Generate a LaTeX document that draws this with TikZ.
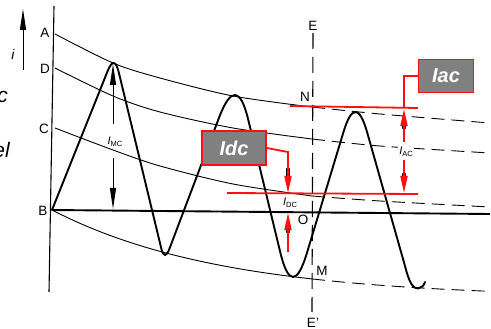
\documentclass[tikz,border=0pt]{standalone}
\usepackage{fontspec}
\setmainfont{Liberation Sans}
\usetikzlibrary{arrows.meta}
\definecolor{boxgrey}{HTML}{808080}
\definecolor{redc}{HTML}{FF1010}
\newcommand{\subtxt}[2]{\textit{#1}\raisebox{-0.35ex}{\fontsize{7.5}{8}\selectfont #2}}
\begin{document}
\begin{tikzpicture}[x=1pt,y=-1pt,
  axisline/.style={line width=1.1pt},
  thincurve/.style={line width=0.9pt},
  dcurve/.style={line width=0.9pt, dash pattern=on 13pt off 7pt},
  wavepath/.style={line width=1.9pt, line join=round, line cap=round},
  redl/.style={draw=redc, line width=1.8pt},
  redarrow/.style={redl, -{Triangle[length=17pt,width=7pt]}},
  blkarrow/.style={line width=1pt, -{Triangle[length=21pt,width=6pt]}},
  lab/.style={inner sep=0pt, font=\fontsize{13.5}{14}\selectfont},
  sublab/.style={inner sep=1pt, fill=white, font=\fontsize{11}{12}\selectfont},
  tagbox/.style={draw=redc, line width=1.6pt, fill=boxgrey, text=white, inner sep=0pt, font=\fontsize{20}{20}\selectfont\bfseries\itshape},
  blob/.style={line width=3.2pt, line cap=round},
]
\useasboundingbox (0,0) rectangle (491,329);

% key points
\coordinate (A) at (55,34);
\coordinate (D) at (55,68);
\coordinate (C) at (55,128);
\coordinate (B) at (52,210);

% left-edge text fragments
\node[anchor=east, inner sep=0pt, font=\fontsize{21}{21}\selectfont\itshape] (fragc) at (8,97) {c};
\node[anchor=east, inner sep=0pt, font=\fontsize{21}{21}\selectfont\itshape] (frage) at (10,150) {el};

% i arrow
\coordinate (ibot) at (23,70);
\coordinate (itop) at (23,9);
\draw[blkarrow] (ibot) -- (itop);
\node[lab, font=\fontsize{14}{14}\selectfont\itshape] (ilab) at (13,54) {i};

% axis
\draw[axisline] (54,6) -- (49,292);

% decaying envelope curves
\draw[thincurve] plot[smooth] coordinates {(55,34) (113,63) (160,78) (233,96) (312,107)};
\draw[dcurve] plot[smooth] coordinates {(312,107) (380,114) (490,123)};
\draw[thincurve] plot[smooth] coordinates {(55,68) (113,96) (160,112) (233,128) (312,139)};
\draw[dcurve] plot[smooth] coordinates {(312,139) (380,146) (490,153)};
\draw[thincurve] plot[smooth] coordinates {(55,128) (113,150) (160,166) (233,184) (312,196)};
\draw[dcurve] plot[smooth] coordinates {(312,196) (380,201) (490,207)};
\draw[thincurve] plot[domain=52:312, samples=60] (\x, {298-88*exp(-(\x-52)/170)});
\draw[dcurve] plot[domain=312:490, samples=40] (\x, {298-88*exp(-(\x-52)/170)});

% base line B
\coordinate (Bend) at (490,214);
\draw[line width=1.9pt] (B) -- (Bend);

% E-E' line
\draw[line width=1.1pt, dash pattern=on 16pt off 8pt] (313,33) -- (312,312);

% current wave
\draw[wavepath] (B) -- (107.4,71.6) .. controls (112.07,59.87) and (115.87,60.17) .. (118.8,72.5)
  -- (161.2,248.1) .. controls (163.4,257.17) and (166.17,257.33) .. (169.5,248.6)
  -- (219.0,117.8) .. controls (230.73,86.8) and (240.47,87.4) .. (248.2,119.6)
  -- (280.1,251.6) .. controls (288.17,285.2) and (297.17,285.47) .. (307.1,252.4)
  -- (343.4,132.3) .. controls (351.53,105.17) and (359.47,105.23) .. (367.2,132.5)
  -- (405,266) .. controls (409,282) and (413,289) .. (418,288.5)
  .. controls (421,288) and (424,286) .. (425,282);

% I_MC
\node[sublab, fill=none] (imc) at (115,142) {\subtxt{I}{MC}};
\draw[blkarrow] (113,124) -- (113,64);
\draw[blkarrow] (113,158) -- (113,209);

% labels
\node[lab] (lA) at (45,33) {A};
\node[lab] (lD) at (45,69) {D};
\node[lab] (lC) at (44,129) {C};
\node[lab] (lB) at (43,211) {B};
\node[lab] (lE) at (313,26) {E};
\node[lab] (lN) at (305,97) {N};
\node[lab] (lO) at (303,220) {O};
\node[lab] (lM) at (322,271) {M};
\node[lab] (lE2) at (313,323) {E'};

% red level lines
\draw[redl] (290,106) -- (418,108);
\draw[redl] (227,193) -- (418,194);

% Idc
\node[tagbox, minimum width=64pt, minimum height=34pt] (idc) at (234,148) {Idc};
\draw[blob] (288,169) -- (288,178);
\draw[blob] (288,224) -- (288,232);
\draw[redarrow] (idc.east) -- (288,152) -- (288,193);
\draw[redarrow] (288,252) -- (288,213);
\node[sublab] (idclab) at (290,203) {\subtxt{I}{DC}};

% Iac
\node[tagbox, minimum width=55pt, minimum height=33pt] (iac) at (446,76) {Iac};
\draw[blob] (404,120) -- (404,128);
\draw[blob] (404,174) -- (404,182);
\draw[redl] (iac.west) -- (404,76) -- (404,108);
\draw[redarrow] (404,142) -- (404,109);
\draw[redarrow] (404,160) -- (404,193);
\node[sublab] (iaclab) at (406,152) {\subtxt{I}{AC}};
\end{tikzpicture}
\end{document}
